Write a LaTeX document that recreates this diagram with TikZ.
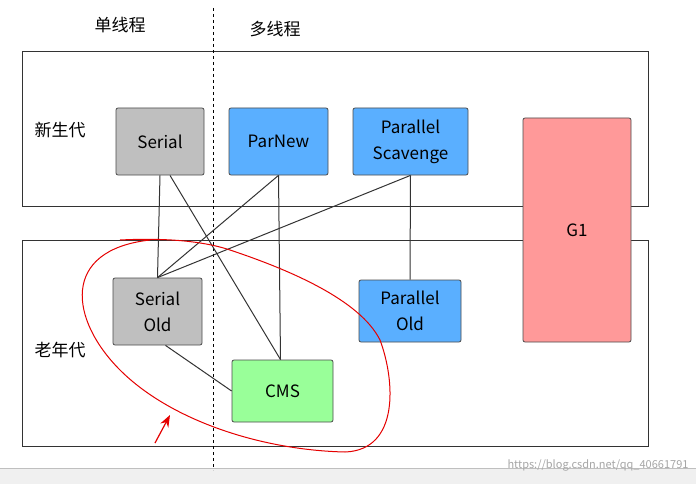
\documentclass[tikz,border=0pt]{standalone}
\usepackage{fontspec}
\setmainfont{Noto Sans CJK SC}
\usetikzlibrary{arrows.meta}
\begin{document}
\begin{tikzpicture}[x=1pt,y=-1pt,
  box/.style={draw=black!70,line width=0.8pt,rounded corners=2pt,font=\fontsize{17}{26}\selectfont,align=center,inner sep=0pt},
  band/.style={draw=black!80,line width=1pt},
  link/.style={draw=black!80,line width=1pt},
  lbl/.style={font=\fontsize{17}{20}\selectfont}]
\useasboundingbox (0,0) rectangle (696,484);
\fill[white] (0,0) rectangle (696,484);
\fill[gray!12] (0,468) rectangle (696,484);
\draw[gray!50] (0,468) -- (696,468);
\draw[band] (22,52) rectangle (648,206);
\draw[band] (22,240) rectangle (648,446);
\draw[dashed,line width=1pt] (213,8) -- (213,470);
\node[lbl] (t1) at (120,25) {单线程};
\node[lbl] (t2) at (275,29) {多线程};
\node[lbl] (y) at (60,130) {新生代};
\node[lbl] (o) at (60,350) {老年代};
\node[box,fill=gray!50,minimum width=88pt,minimum height=67pt] (s) at (160,141.5) {Serial};
\node[box,fill={rgb,255:red,90;green,175;blue,255},minimum width=99pt,minimum height=67pt] (pn) at (278.5,141.5) {ParNew};
\node[box,fill={rgb,255:red,90;green,175;blue,255},minimum width=115pt,minimum height=67pt] (ps) at (410.5,141.5) {Parallel\\Scavenge};
\node[box,fill={rgb,255:red,255;green,153;blue,153},minimum width=108pt,minimum height=224pt] (g1) at (577,230) {G1};
\node[box,fill=gray!50,minimum width=89pt,minimum height=67pt] (so) at (157.5,311.5) {Serial\\Old};
\node[box,fill={rgb,255:red,90;green,175;blue,255},minimum width=102pt,minimum height=62pt] (po) at (410,311) {Parallel\\Old};
\node[box,fill={rgb,255:red,153;green,255;blue,153},minimum width=101pt,minimum height=62pt] (cms) at (282.5,391) {CMS};
\draw[link] (s.south) -- (so.north);
\draw[link] ([xshift=10pt]s.south) -- ([xshift=-2pt]cms.north);
\draw[link] (pn.south) -- (so.north);
\draw[link] (pn.south) -- ([xshift=-2pt]cms.north);
\draw[link] (ps.south) -- (so.north);
\draw[link] (ps.south) -- (po.north);
\draw[link] ([xshift=8pt]so.south) -- (cms.west);
\draw[red!90!black,line width=1pt] (150,240) .. controls (60,250) and (70,320) .. (120,370)
  .. controls (170,420) and (260,450) .. (345,452) .. controls (400,450) and (395,380) .. (380,340)
  .. controls (360,300) and (290,270) .. (230,250) .. controls (200,240) and (160,238) .. (120,240);
\draw[red!90!black,line width=1.2pt,-{Stealth[length=12pt,width=9pt]}] (155,443) -- (170,415);
\node[gray!70,font=\fontsize{11}{13}\selectfont,anchor=east] (wm) at (692,465) {https://blog.csdn.net/qq\_40661791};
\end{tikzpicture}
\end{document}
